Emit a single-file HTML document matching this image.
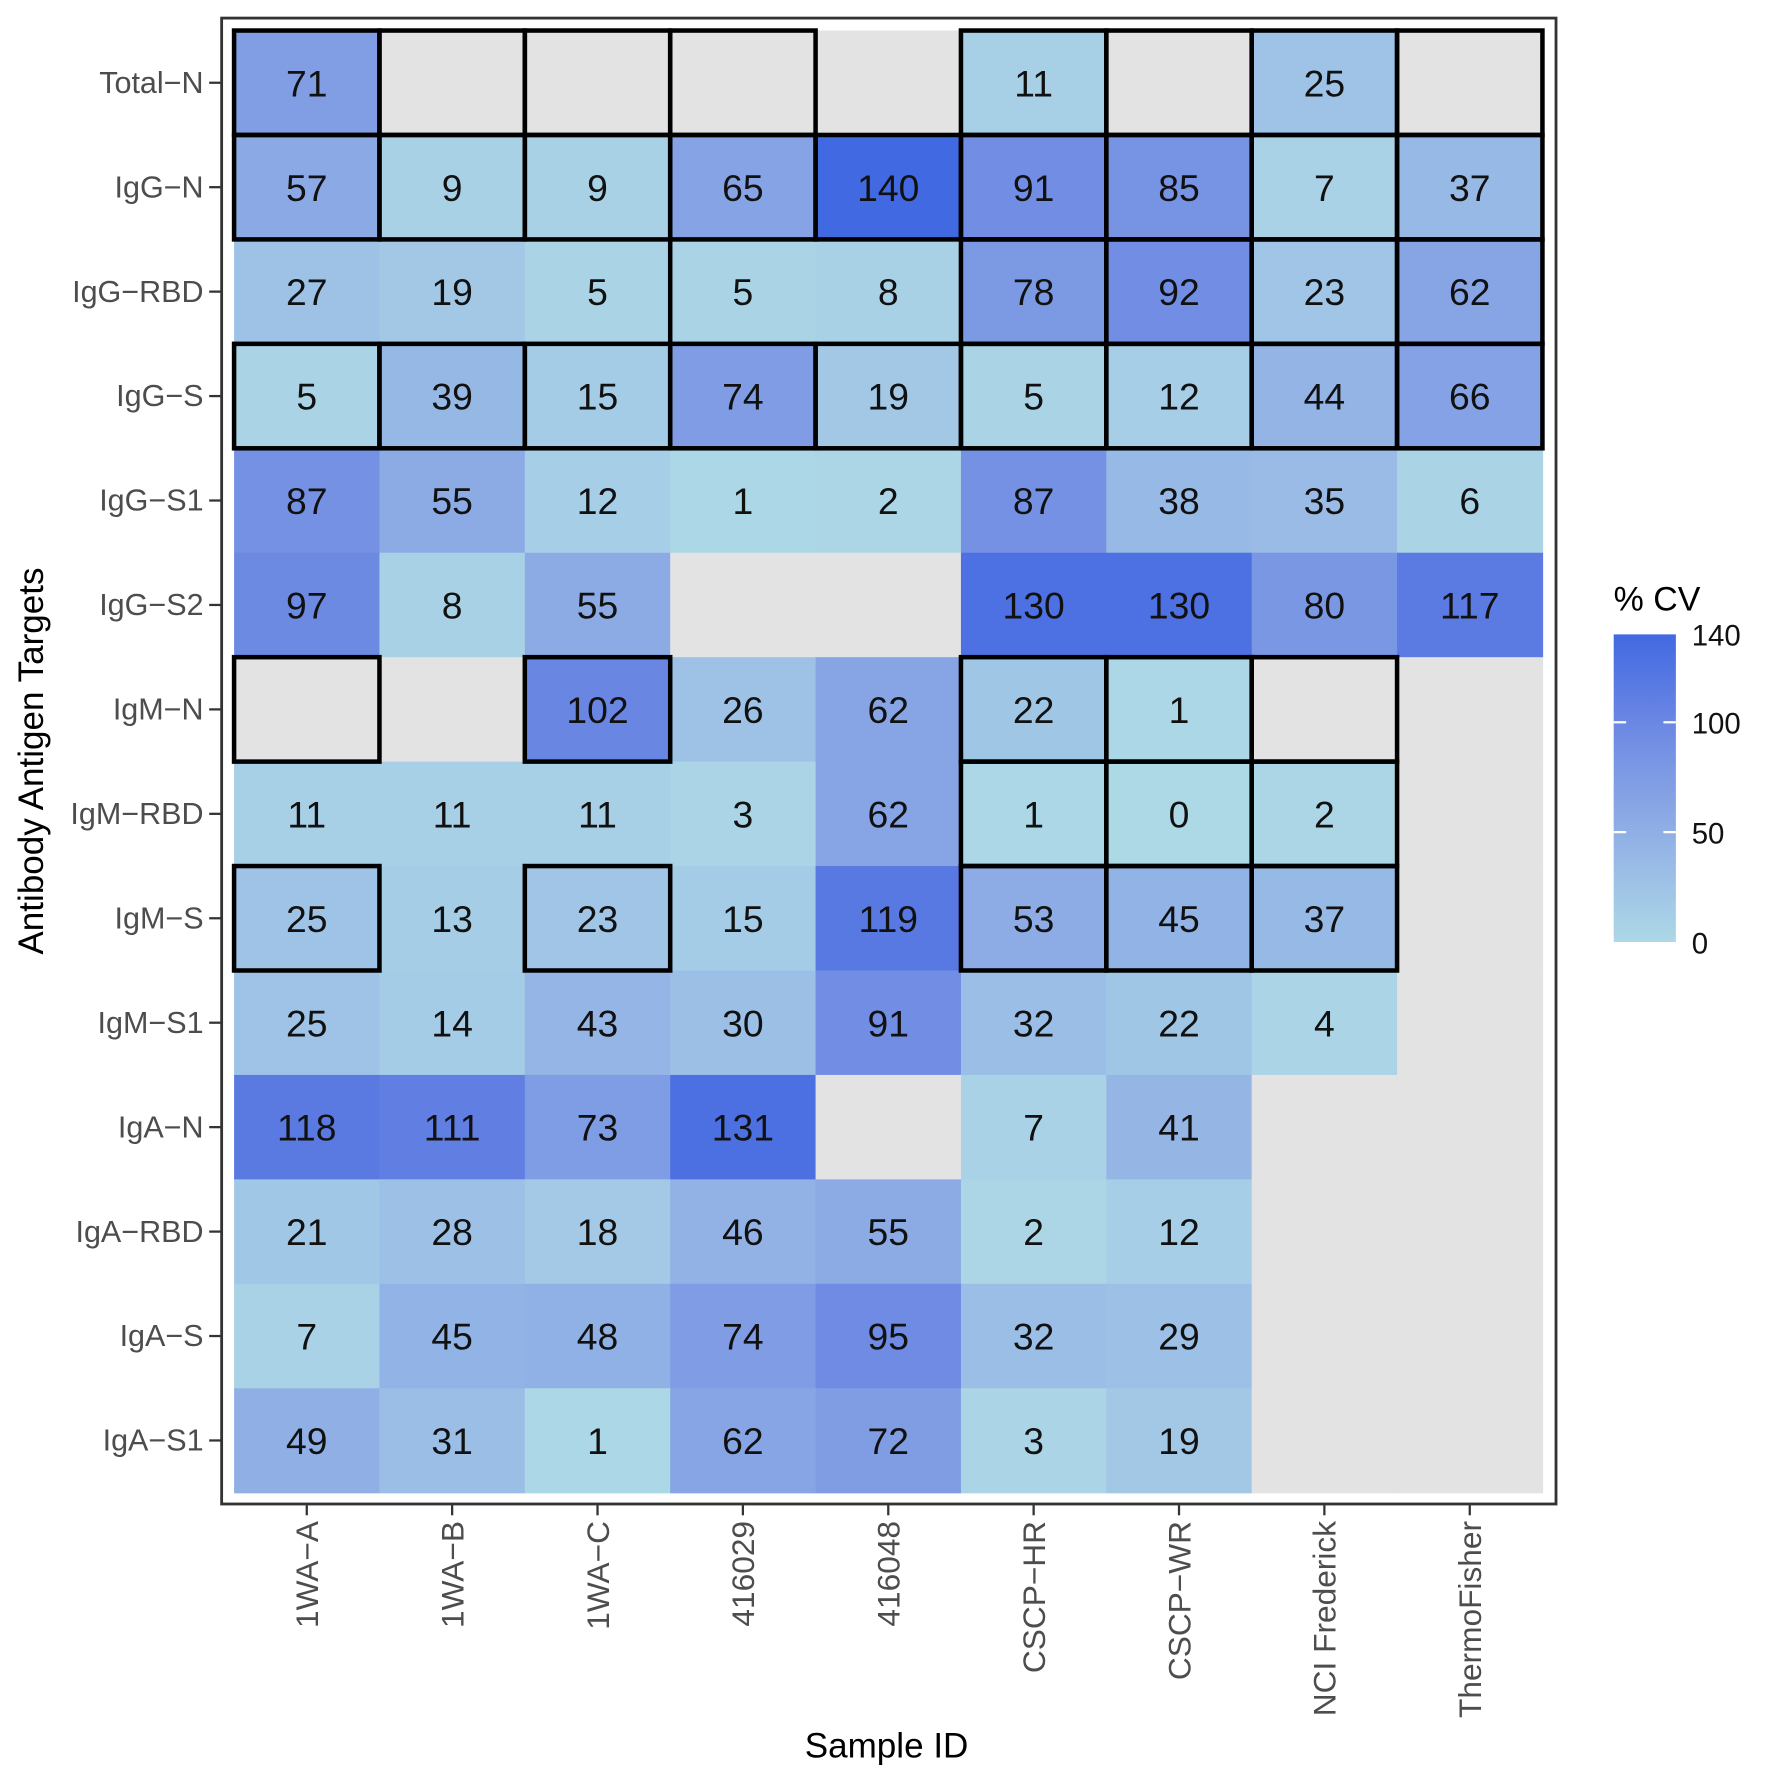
<!DOCTYPE html>
<html><head><meta charset="utf-8"><style>
html,body{margin:0;padding:0;background:#fff;}
svg{display:block;}
text{font-family:"Liberation Sans",Arial,sans-serif;}
</style></head><body>
<svg id="chart" width="1772" height="1772" viewBox="0 0 1567 1567" xmlns="http://www.w3.org/2000/svg">
<defs><linearGradient id="cbar" x1="0" y1="1" x2="0" y2="0" id2="g">
<stop offset="0" stop-color="#ADD8E6"/><stop offset="0.25" stop-color="#9CBDE5"/><stop offset="0.5" stop-color="#88A2E4"/><stop offset="0.75" stop-color="#6F86E3"/><stop offset="1" stop-color="#4169E1"/></linearGradient></defs>
<rect x="0" y="0" width="1567" height="1567" fill="#fff"/>
<g id="tiles"></g>
<g id="labels"></g>
<g id="boxes"></g>
<rect x="196" y="16" width="1180" height="1314" fill="none" stroke="#333" stroke-width="2.5"/>
<g id="yaxis"></g>
<g id="xaxis"></g>
<text x="38" y="673" transform="rotate(-90 38 673)" text-anchor="middle" font-size="31" fill="#000">Antibody Antigen Targets</text>
<text x="784" y="1554" text-anchor="middle" font-size="31" fill="#000">Sample ID</text>
<g>
<text x="1427" y="540" font-size="30" fill="#000">% CV</text>
<rect x="1427" y="561" width="55" height="272" fill="url(#cbar)"/>
<g id="legendticks"></g>
</g>
</svg>
<script>
const cols = ["1WA-A","1WA-B","1WA-C","416029","416048","CSCP-HR","CSCP-WR","NCI Frederick","ThermoFisher"];
const rows = ["Total-N","IgG-N","IgG-RBD","IgG-S","IgG-S1","IgG-S2","IgM-N","IgM-RBD","IgM-S","IgM-S1","IgA-N","IgA-RBD","IgA-S","IgA-S1"];
const vTotalN = [71,null,null,null,null,11,null,25,null];
const vIgGN = [57,9,9,65,140,91,85,7,37];
const vIgGRBD = [27,19,5,5,8,78,92,23,62];
const vIgGS = [5,39,15,74,19,5,12,44,66];
const vIgGS1 = [87,55,12,1,2,87,38,35,6];
const vIgGS2 = [97,8,55,null,null,130,130,80,117];
const vIgMN = [null,null,102,26,62,22,1,null,null];
const vIgMRBD = [11,11,11,3,62,1,0,2,null];
const vIgMS = [25,13,23,15,119,53,45,37,null];
const vIgMS1 = [25,14,43,30,91,32,22,4,null];
const vIgAN = [118,111,73,131,null,7,41,null,null];
const vIgARBD = [21,28,18,46,55,2,12,null,null];
const vIgAS = [7,45,48,74,95,32,29,null,null];
const vIgAS1 = [49,31,1,62,72,3,19,null,null];
const values = [vTotalN,vIgGN,vIgGRBD,vIgGS,vIgGS1,vIgGS2,vIgMN,vIgMRBD,vIgMS,vIgMS1,vIgAN,vIgARBD,vIgAS,vIgAS1];
const boxedCells = [[0,0],[0,1],[0,2],[0,3],[0,5],[0,6],[0,7],[0,8],
 [1,0],[1,1],[1,2],[1,3],[1,4],[1,5],[1,6],[1,7],[1,8],
 [2,5],[2,6],[2,7],[2,8],
 [3,0],[3,1],[3,2],[3,3],[3,4],[3,5],[3,6],[3,7],[3,8],
 [6,0],[6,2],[6,5],[6,6],[6,7],
 [7,5],[7,6],[7,7],
 [8,0],[8,2],[8,5],[8,6],[8,7]];
const legendTicks = [0,50,100,140];
const vmin = 0, vmax = 140;

const NS = "http://www.w3.org/2000/svg";
const x0 = 207, x1 = 1364, y0 = 27, y1 = 1320;
const cw = (x1-x0)/cols.length, rh = (y1-y0)/rows.length;
function xs(i){ return x0 + i*cw; }
function ys(j){ return y0 + j*rh; }
function toLin(c){ c/=255; return c<=0.04045? c/12.92 : Math.pow((c+0.055)/1.055,2.4); }
function fromLin(c){ const v = c<=0.0031308? 12.92*c : 1.055*Math.pow(c,1/2.4)-0.055; return Math.round(Math.max(0,Math.min(1,v))*255); }
function rgb2lab(r,g,b){
  r=toLin(r); g=toLin(g); b=toLin(b);
  let X=(0.4124*r+0.3576*g+0.1805*b)/0.95047, Y=(0.2126*r+0.7152*g+0.0722*b), Z=(0.0193*r+0.1192*g+0.9505*b)/1.08883;
  const f=t=>t>0.008856?Math.cbrt(t):7.787*t+16/116;
  X=f(X);Y=f(Y);Z=f(Z);
  return [116*Y-16, 500*(X-Y), 200*(Y-Z)];
}
function lab2rgb(L,a,b){
  let Y=(L+16)/116, X=a/500+Y, Z=Y-b/200;
  const fi=t=>{const t3=t*t*t; return t3>0.008856?t3:(t-16/116)/7.787;};
  X=fi(X)*0.95047; Y=fi(Y); Z=fi(Z)*1.08883;
  const r= 3.2406*X-1.5372*Y-0.4986*Z, g=-0.9689*X+1.8758*Y+0.0415*Z, bb=0.0557*X-0.2040*Y+1.0570*Z;
  return [fromLin(r),fromLin(g),fromLin(bb)];
}
const labLo = rgb2lab(173,216,230), labHi = rgb2lab(65,105,225);
function color(v){
  const t = Math.max(0,Math.min(1,(v-vmin)/(vmax-vmin)));
  const l = labLo.map((c,k)=>c+(labHi[k]-c)*t);
  return "rgb("+lab2rgb(l[0],l[1],l[2]).join(",")+")";
}
function mk(tag, attrs, parent){
  const e = document.createElementNS(NS, tag);
  for (const k in attrs) e.setAttribute(k, attrs[k]);
  parent.appendChild(e); return e;
}
// update gradient stops using lab interpolation
document.querySelectorAll("#cbar stop").forEach(s=>{
  const o = parseFloat(s.getAttribute("offset"));
  s.setAttribute("stop-color", color(vmin + o*(vmax-vmin)));
});
const gT = document.getElementById("tiles"), gL = document.getElementById("labels"), gB = document.getElementById("boxes");
rows.forEach((r,j)=>{
  cols.forEach((c,i)=>{
    const v = values[j][i];
    const t = mk("rect",{x:xs(i),y:ys(j),width:cw+0.6,height:rh+0.6,fill: v===null?"#E3E3E3":color(v)},gT);
    
    
    if (v!==null){
      const tx = mk("text",{x:xs(i)+cw/2,y:ys(j)+rh/2+12,"text-anchor":"middle","font-size":"33",fill:"#111"},gL);
      tx.textContent = v;
      
      
    }
  });
});
boxedCells.forEach(([j,i])=>{
  const b = mk("rect",{x:xs(i),y:ys(j),width:cw,height:rh,fill:"none",stroke:"#000","stroke-width":"4"},gB);
  
  
});
const extra = mk("line",{x1:xs(3),x2:xs(3),y1:ys(2),y2:ys(3),stroke:"#000","stroke-width":"4"},gB);



const gy = document.getElementById("yaxis");
rows.forEach((r,j)=>{
  const cy = ys(j)+rh/2;
  const tk = mk("line",{x1:185,x2:195,y1:cy,y2:cy,stroke:"#333","stroke-width":"2"},gy);
  
  
  const t = mk("text",{x:180,y:cy+9,"text-anchor":"end","font-size":"27",fill:"#4D4D4D"},gy);
  t.textContent = r.replace("-","\u2212");
  
  
});
const gx = document.getElementById("xaxis");
cols.forEach((c,i)=>{
  const cx = xs(i)+cw/2;
  const tk = mk("line",{x1:cx,x2:cx,y1:1331,y2:1340,stroke:"#333","stroke-width":"2"},gx);
  
  
  const t = mk("text",{x:cx+10,y:1345,"text-anchor":"end","font-size":"28",fill:"#4D4D4D",transform:"rotate(-90 "+(cx+10)+" 1345)"},gx);
  t.textContent = c.replace("-","\u2212");
  
  
});
const gl = document.getElementById("legendticks");
legendTicks.forEach(v=>{
  const y = 833 - (v-vmin)/(vmax-vmin)*272;
  if (v>vmin && v<vmax){
    const a = mk("line",{x1:1427,x2:1438,y1:y,y2:y,stroke:"#fff","stroke-width":"2"},gl);
    
    
    const b = mk("line",{x1:1471,x2:1482,y1:y,y2:y,stroke:"#fff","stroke-width":"2"},gl);
    
    
  }
  const t = mk("text",{x:1496,y:y+10,"font-size":"26",fill:"#111"},gl);
  t.textContent = v;
  
  
});
</script>
</body></html>
